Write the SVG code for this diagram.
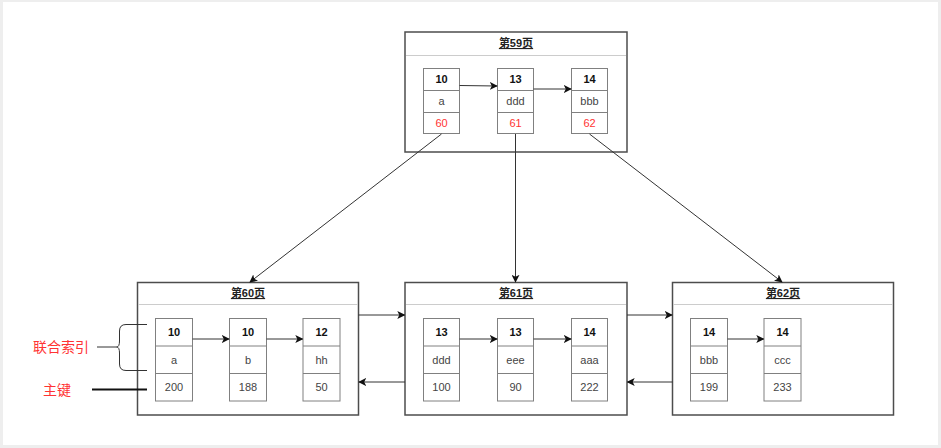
<svg xmlns="http://www.w3.org/2000/svg" width="941" height="448" viewBox="0 0 941 448">
<defs>
<style>
.page{fill:#ffffff;stroke:#4d4d4d;stroke-width:1.5}
.div{stroke:#cccccc;stroke-width:1}
.cell{fill:#ffffff;stroke:#808080;stroke-width:1}
.title{font-family:"Liberation Sans","Noto Sans CJK SC",sans-serif;font-size:11px;font-weight:bold;fill:#222;text-anchor:middle;text-decoration:underline}
.hd{font-family:"Liberation Sans",sans-serif;font-size:11px;font-weight:bold;fill:#111;text-anchor:middle}
.tx{font-family:"Liberation Sans",sans-serif;font-size:11px;fill:#444;text-anchor:middle}
.red{font-family:"Liberation Sans",sans-serif;font-size:11px;fill:#ff3333;text-anchor:middle}
.lbl{font-family:"Liberation Sans","Noto Sans CJK SC",sans-serif;font-size:14px;fill:#ff3333}
.edge{fill:none;stroke:#333;stroke-width:1}
</style>
<marker id="ah" viewBox="0 0 10 10" refX="9" refY="5" markerWidth="8" markerHeight="8" markerUnits="userSpaceOnUse" orient="auto">
<path d="M0,0 L10,5 L0,10 L2.5,5 Z" fill="#111"/>
</marker>
</defs>
<rect x="0" y="0" width="941" height="448" fill="#eeeeee"/>
<rect x="3" y="2" width="935" height="443" fill="#ffffff"/>

<g id="p59">
<rect class="page" x="405" y="32" width="222" height="120"/>
<line class="div" x1="406" y1="55.5" x2="626" y2="55.5"/>
<text class="title" x="516" y="47">第59页</text>
<g id="p59c1"><rect class="cell" x="423.5" y="68.5" width="36" height="65"/><line class="cell" x1="423.5" y1="90.5" x2="459.5" y2="90.5"/><line class="cell" x1="423.5" y1="112.5" x2="459.5" y2="112.5"/>
<text class="hd" x="441.5" y="83">10</text><text class="tx" x="441.5" y="105">a</text><text class="red" x="441.5" y="127">60</text></g>
<g id="p59c2"><rect class="cell" x="497.5" y="68.5" width="36" height="65"/><line class="cell" x1="497.5" y1="90.5" x2="533.5" y2="90.5"/><line class="cell" x1="497.5" y1="112.5" x2="533.5" y2="112.5"/>
<text class="hd" x="515.5" y="83">13</text><text class="tx" x="515.5" y="105">ddd</text><text class="red" x="515.5" y="127">61</text></g>
<g id="p59c3"><rect class="cell" x="571.5" y="68.5" width="36" height="65"/><line class="cell" x1="571.5" y1="90.5" x2="607.5" y2="90.5"/><line class="cell" x1="571.5" y1="112.5" x2="607.5" y2="112.5"/>
<text class="hd" x="589.5" y="83">14</text><text class="tx" x="589.5" y="105">bbb</text><text class="red" x="589.5" y="127">62</text></g>
</g>

<g id="p60">
<rect class="page" x="137.5" y="282.5" width="221" height="132.5"/>
<line class="div" x1="138" y1="304.5" x2="358" y2="304.5"/>
<text class="title" x="248" y="297">第60页</text>
<g id="p60c1"><rect class="cell" x="155.5" y="318.5" width="37" height="82.5"/><line class="cell" x1="155.5" y1="346" x2="192.5" y2="346"/><line class="cell" x1="155.5" y1="373.5" x2="192.5" y2="373.5"/>
<text class="hd" x="174" y="336">10</text><text class="tx" x="174" y="364">a</text><text class="tx" x="174" y="391">200</text></g>
<g id="p60c2"><rect class="cell" x="229.5" y="318.5" width="37" height="82.5"/><line class="cell" x1="229.5" y1="346" x2="266.5" y2="346"/><line class="cell" x1="229.5" y1="373.5" x2="266.5" y2="373.5"/>
<text class="hd" x="248" y="336">10</text><text class="tx" x="248" y="364">b</text><text class="tx" x="248" y="391">188</text></g>
<g id="p60c3"><rect class="cell" x="303" y="318.5" width="37" height="82.5"/><line class="cell" x1="303" y1="346" x2="340" y2="346"/><line class="cell" x1="303" y1="373.5" x2="340" y2="373.5"/>
<text class="hd" x="321.5" y="336">12</text><text class="tx" x="321.5" y="364">hh</text><text class="tx" x="321.5" y="391">50</text></g>
</g>

<g id="p61">
<rect class="page" x="405" y="282.5" width="222" height="132.5"/>
<line class="div" x1="406" y1="304.5" x2="626" y2="304.5"/>
<text class="title" x="516" y="297">第61页</text>
<g id="p61c1"><rect class="cell" x="423.5" y="318.5" width="36" height="82.5"/><line class="cell" x1="423.5" y1="346" x2="459.5" y2="346"/><line class="cell" x1="423.5" y1="373.5" x2="459.5" y2="373.5"/>
<text class="hd" x="441.5" y="336">13</text><text class="tx" x="441.5" y="364">ddd</text><text class="tx" x="441.5" y="391">100</text></g>
<g id="p61c2"><rect class="cell" x="497.5" y="318.5" width="36" height="82.5"/><line class="cell" x1="497.5" y1="346" x2="533.5" y2="346"/><line class="cell" x1="497.5" y1="373.5" x2="533.5" y2="373.5"/>
<text class="hd" x="515.5" y="336">13</text><text class="tx" x="515.5" y="364">eee</text><text class="tx" x="515.5" y="391">90</text></g>
<g id="p61c3"><rect class="cell" x="571.5" y="318.5" width="36" height="82.5"/><line class="cell" x1="571.5" y1="346" x2="607.5" y2="346"/><line class="cell" x1="571.5" y1="373.5" x2="607.5" y2="373.5"/>
<text class="hd" x="589.5" y="336">14</text><text class="tx" x="589.5" y="364">aaa</text><text class="tx" x="589.5" y="391">222</text></g>
</g>

<g id="p62">
<rect class="page" x="672.5" y="282.5" width="221" height="132.5"/>
<line class="div" x1="673" y1="304.5" x2="893" y2="304.5"/>
<text class="title" x="783" y="297">第62页</text>
<g id="p62c1"><rect class="cell" x="690.5" y="318.5" width="37" height="82.5"/><line class="cell" x1="690.5" y1="346" x2="727.5" y2="346"/><line class="cell" x1="690.5" y1="373.5" x2="727.5" y2="373.5"/>
<text class="hd" x="709" y="336">14</text><text class="tx" x="709" y="364">bbb</text><text class="tx" x="709" y="391">199</text></g>
<g id="p62c2"><rect class="cell" x="764" y="318.5" width="37" height="82.5"/><line class="cell" x1="764" y1="346" x2="801" y2="346"/><line class="cell" x1="764" y1="373.5" x2="801" y2="373.5"/>
<text class="hd" x="782.5" y="336">14</text><text class="tx" x="782.5" y="364">ccc</text><text class="tx" x="782.5" y="391">233</text></g>
</g>

<g id="labels">
<text class="lbl" x="33" y="352">联合索引</text>
<text class="lbl" x="43" y="395">主键</text>
</g>

<g id="connectors">
<path class="edge" d="M459.5,85.5 L497,86" marker-end="url(#ah)"/>
<path class="edge" d="M533.5,89 L571,89" marker-end="url(#ah)"/>
<path class="edge" d="M192.5,339 L229,339" marker-end="url(#ah)"/>
<path class="edge" d="M266.5,339 L302.5,339" marker-end="url(#ah)"/>
<path class="edge" d="M459.5,339 L497,339" marker-end="url(#ah)"/>
<path class="edge" d="M533.5,339 L571,339" marker-end="url(#ah)"/>
<path class="edge" d="M727.5,339 L763.5,339" marker-end="url(#ah)"/>
<path class="edge" d="M441.5,134 L250,282" marker-end="url(#ah)"/>
<path class="edge" d="M515.5,134 L515.5,282" marker-end="url(#ah)"/>
<path class="edge" d="M589.5,134 L782,282" marker-end="url(#ah)"/>
<path class="edge" d="M358.5,315 L404.5,315" marker-end="url(#ah)"/>
<path class="edge" d="M405,382 L359,382" marker-end="url(#ah)"/>
<path class="edge" d="M627,315 L672,315" marker-end="url(#ah)"/>
<path class="edge" d="M672.5,382 L627.5,382" marker-end="url(#ah)"/>
<path fill="none" stroke="#333" stroke-width="1" d="M147,324.5 L126,324.5 Q119.5,324.5 119.5,331 L119.5,341 Q119.5,347 116.5,347 Q119.5,347 119.5,353 L119.5,364 Q119.5,370.5 126,370.5 L147,370.5"/>
<line x1="97" y1="347" x2="116.5" y2="347" stroke="#333" stroke-width="1"/>
<line x1="92" y1="389.5" x2="147" y2="389.5" stroke="#111" stroke-width="2"/>
</g>
</svg>
